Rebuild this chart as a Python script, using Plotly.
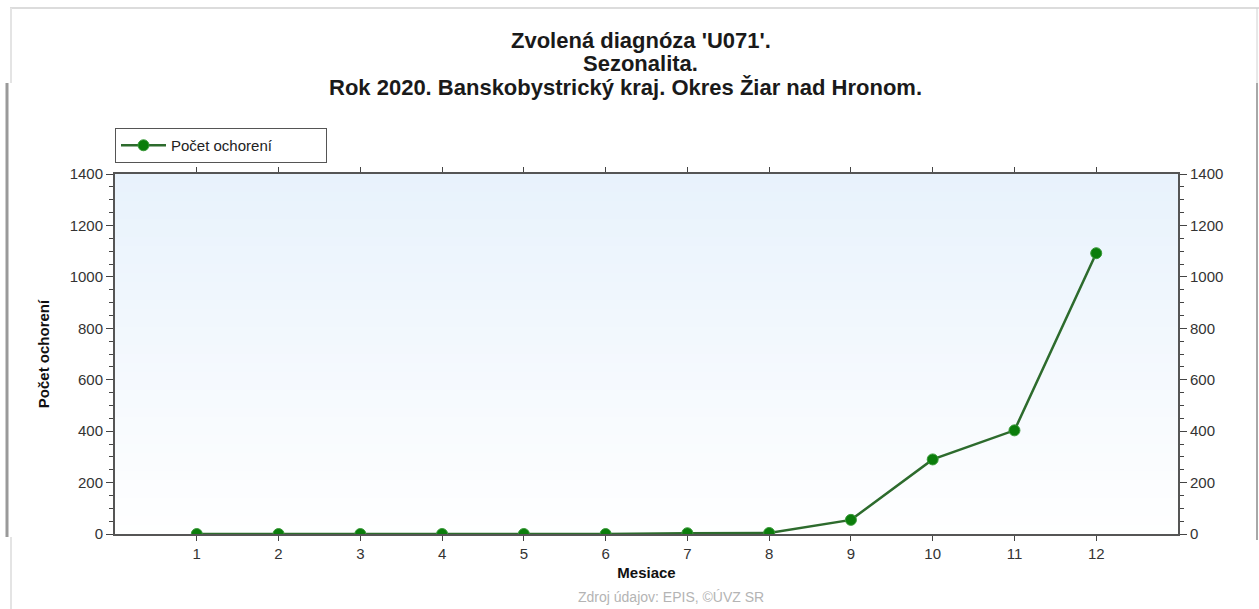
import plotly.graph_objects as go

# data
mesiace = [1, 2, 3, 4, 5, 6, 7, 8, 9, 10, 11, 12]
pocet_ochoreni = [0, 0, 0, 0, 0, 0, 3, 4, 55, 290, 403, 1092]
y_ticks = [0, 200, 400, 600, 800, 1000, 1200, 1400]

title_lines = [
    "Zvolená diagnóza 'U071'.",
    "Sezonalita.",
    "Rok 2020. Banskobystrický kraj. Okres Žiar nad Hronom.",
]
series_name = "Počet ochorení"
x_title = "Mesiace"
y_title = "Počet ochorení"
source_text = "Zdroj údajov: EPIS, ©ÚVZ SR"

W, H = 1259, 609
L, R, T, B = 115, 81, 174, 75
PW, PH = W - L - R, H - T - B
FONT = "Liberation Sans, Arial, sans-serif"


def px(x):
    return (x - L) / PW


def py(y):
    return (H - B - y) / PH


fig = go.Figure()
fig.add_trace(go.Scatter(
    x=mesiace, y=pocet_ochoreni, mode="lines+markers", name=series_name,
    line=dict(color="#2d6b2d", width=2.5),
    marker=dict(color="#0b7d0b", size=11, line=dict(color="#3a9a3a", width=1)),
))
# invisible trace to carry the right-hand y axis
fig.add_trace(go.Scatter(x=mesiace, y=pocet_ochoreni, yaxis="y2",
                         mode="lines", line=dict(width=0), showlegend=False,
                         hoverinfo="skip", opacity=0))

# light blue vertical gradient in the plot area
shapes = []
n = 40
for i in range(n):
    f = i / n
    r = round(0xe8 + (0xff - 0xe8) * f)
    g = round(0xf2 + (0xff - 0xf2) * f)
    b = round(0xfc + (0xff - 0xfc) * f)
    shapes.append(dict(type="rect", xref="x domain", yref="y domain",
                       x0=0, x1=1, y0=1 - (i + 1) / n, y1=1 - i / n,
                       fillcolor=f"rgb({r},{g},{b})", line=dict(width=0),
                       layer="below"))

# page frame from the screenshot
frame = [
    (10, 8, 1259, 8, "#dcdcdc", 2),
    (11, 8, 11, 83, "#e4e4e4", 2),
    (11, 537, 11, 609, "#e4e4e4", 2),
    (7, 83, 7, 537, "#9a9a9a", 3),
    (1257, 8, 1257, 83, "#d0d0d0", 1),
    (1257, 83, 1257, 540, "#a8a8a8", 2),
]
for x0, y0, x1, y1, c, w in frame:
    shapes.append(dict(type="line", xref="paper", yref="paper",
                       x0=px(x0), y0=py(y0), x1=px(x1), y1=py(y1),
                       line=dict(color=c, width=w)))

# title lines as separate annotations (centre x, centre y in pixels)
annotations = []
for text, cx, cy in zip(title_lines, [641, 640, 625], [40, 64, 88]):
    annotations.append(dict(text=f"<b>{text}</b>", xref="paper", yref="paper",
                            x=px(cx), y=py(cy), xanchor="center",
                            yanchor="middle", showarrow=False,
                            font=dict(family=FONT, size=22, color="#1a1a1a")))
annotations.append(dict(text=source_text, xref="paper", yref="paper",
                        x=px(671), y=py(607), xanchor="center",
                        yanchor="bottom", showarrow=False,
                        font=dict(family=FONT, size=14, color="#b4b4b4")))

axis_common = dict(range=[0, 1400], tickvals=y_ticks, showgrid=False,
                   zeroline=False, showline=True, linecolor="#555",
                   linewidth=2, ticks="outside", ticklen=7, tickcolor="#444",
                   tickfont=dict(family=FONT, size=15, color="#333"),
                   minor=dict(dtick=50, ticks="outside", ticklen=4,
                              tickcolor="#444"))

fig.update_layout(
    width=W, height=H,
    margin=dict(l=L, r=R, t=T, b=B),
    paper_bgcolor="white", plot_bgcolor="rgba(0,0,0,0)",
    shapes=shapes,
    annotations=annotations,
    xaxis=dict(range=[0, 13], tickvals=mesiace, showgrid=False,
               zeroline=False, showline=True, linecolor="#555", linewidth=2,
               mirror="ticks", ticks="outside", ticklen=5, tickcolor="#444",
               tickfont=dict(family=FONT, size=15, color="#333"),
               title=dict(text=f"<b>{x_title}</b>", standoff=6,
                          font=dict(family=FONT, size=15, color="#111"))),
    yaxis=dict(**axis_common,
               title=dict(text=f"<b>{y_title}</b>", standoff=16,
                          font=dict(family=FONT, size=15, color="#111"))),
    yaxis2=dict(**axis_common, overlaying="y", side="right"),
    legend=dict(x=0, y=py(163), xanchor="left", yanchor="bottom",
                orientation="h", entrywidth=150, entrywidthmode="pixels",
                bgcolor="white", bordercolor="#555", borderwidth=1,
                font=dict(family=FONT, size=15, color="#222"),
                itemwidth=45),
    showlegend=True,
)

fig.write_html("out.html", config={"displayModeBar": False},
               post_script="document.body.style.margin='0';"
                           "document.body.style.overflow='hidden';")
